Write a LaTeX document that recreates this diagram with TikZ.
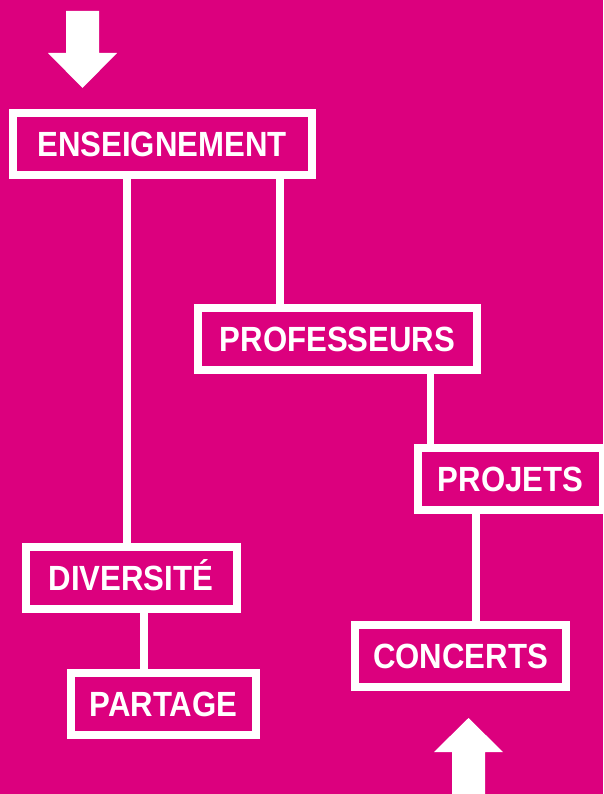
\documentclass[tikz,border=0pt]{standalone}
\usepackage{fontspec}
\newfontfamily\boxfont[FakeStretch=0.89]{Liberation Sans}
\usetikzlibrary{positioning}
\definecolor{magbg}{RGB}{220,0,126}

\tikzset{
	box/.style={draw=white, line width=8pt, text=white, inner sep=0pt, text height=25pt, text depth=0pt, minimum height=62pt, font=\boxfont\bfseries\fontsize{35}{35}\selectfont},
	link/.style={draw=white, line width=7.5pt},
	bigarrow/.style={fill=white}
}

\begin{document}
\begin{tikzpicture}[x=1pt, y=-1pt]
	\useasboundingbox (0,0) rectangle (603,794);
	\fill[magbg] (0,0) rectangle (603,794);

	\node[box, minimum width=299pt] (ens) at (162,144.5) {ENSEIGNEMENT};
	\node[box, minimum width=279pt] (prof) at (337.5,339) {PROFESSEURS};
	\node[box, minimum width=185pt] (proj) at (510.5,478.5) {PROJETS};
	\node[box, minimum width=211pt] (div) at (131,578) {DIVERSITÉ};
	\node[box, minimum width=185pt] (part) at (163.5,704) {PARTAGE};
	\node[box, minimum width=211pt] (conc) at (460.5,656) {CONCERTS};

	\coordinate (intip) at (82.5,88);
	\coordinate (outtip) at (468.5,718);

	\path [link] ([xshift=-4pt]div.north) -- ([xshift=-4pt]div.north |- ens.south);
	\path [link] ([xshift=118pt]ens.south) -- ([xshift=118pt]ens.south |- prof.north);
	\path [link] ([xshift=93pt]prof.south) -- ([xshift=93pt]prof.south |- proj.north);
	\path [link] ([xshift=15.5pt]conc.north) -- ([xshift=15.5pt]conc.north |- proj.south);
	\path [link] ([xshift=13pt]div.south) -- ([xshift=13pt]div.south |- part.north);

	% arrows in and out
	\fill [bigarrow] (intip) -- ++(34.5,-35) -- ++(-18,0) -- ++(0,-42) -- ++(-33,0) -- ++(0,42) -- ++(-18,0) -- cycle;
	\fill [bigarrow] (outtip) -- ++(34.5,34) -- ++(-18,0) -- ++(0,46) -- ++(-33,0) -- ++(0,-46) -- ++(-18,0) -- cycle;
\end{tikzpicture}
\end{document}
